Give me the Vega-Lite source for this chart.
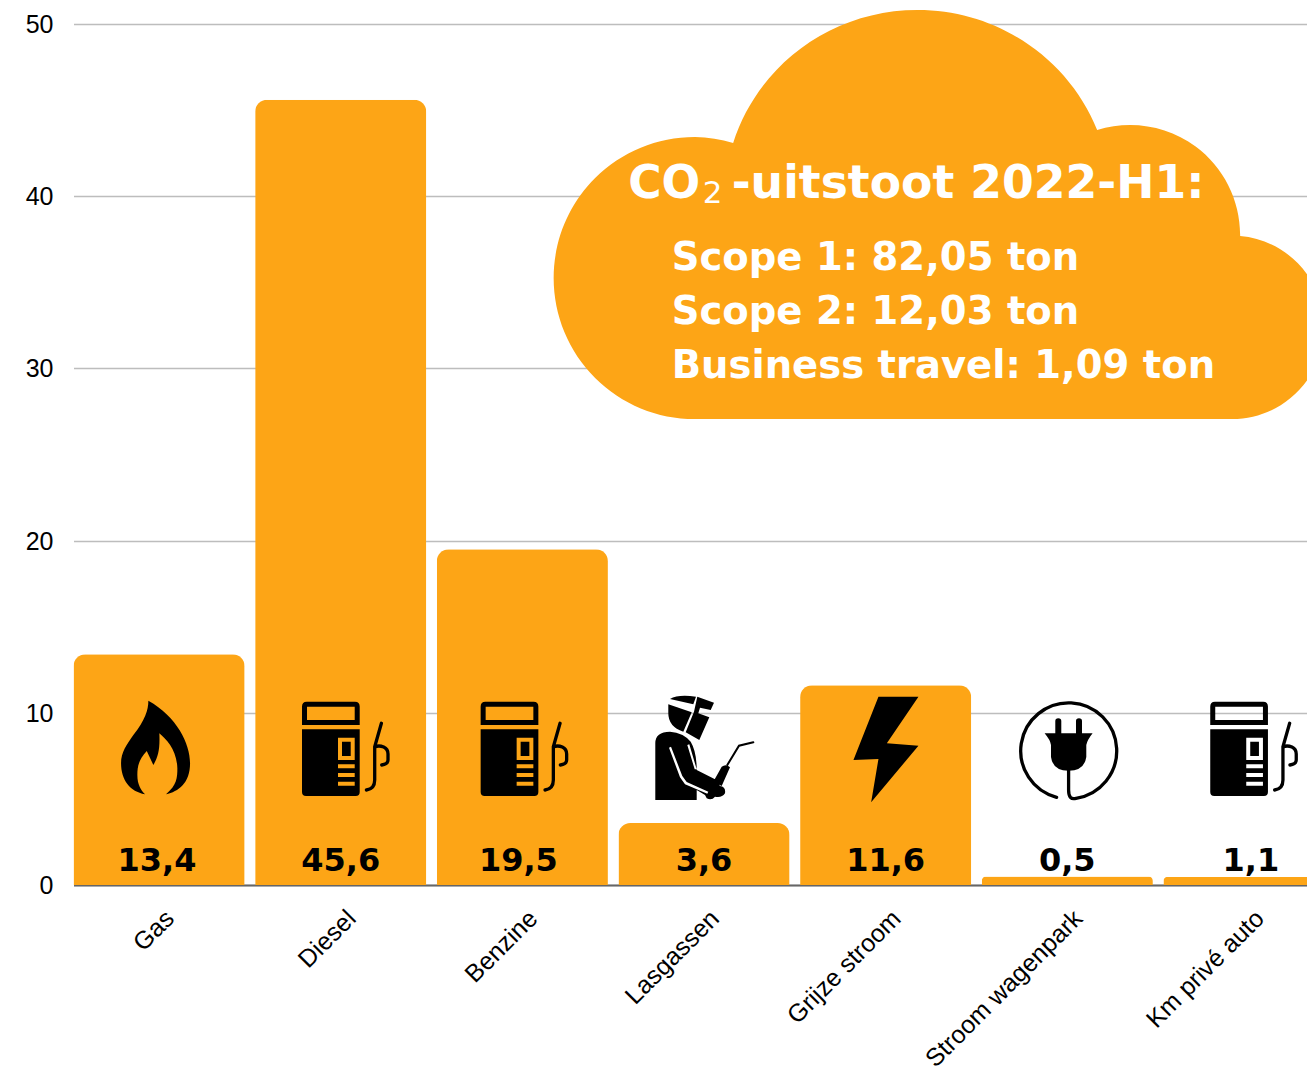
{
"$schema":"https://vega.github.io/schema/vega-lite/v6.json",
"width":1235,"height":861,"autosize":"none",
"padding":{"left":72,"top":24,"right":0,"bottom":184},
"background":"white",
"config":{"view":{"stroke":null}},
"datasets":{
"bars":[
{"cat":"Gas","value":13.4,"bar":13.4,"label":"13,4","icon":"flame"},
{"cat":"Diesel","value":45.6,"bar":45.6,"label":"45,6","icon":"pump","line":"hose"},
{"cat":"Benzine","value":19.5,"bar":19.5,"label":"19,5","icon":"pump","line":"hose"},
{"cat":"Lasgassen","value":3.6,"bar":3.6,"label":"3,6","icon":"welder","line":"torch"},
{"cat":"Grijze stroom","value":11.6,"bar":11.6,"label":"11,6","icon":"bolt"},
{"cat":"Stroom wagenpark","value":0.5,"bar":0.5,"label":"0,5","icon":"plug","line":"cord"},
{"cat":"Km privé auto","value":1.1,"bar":0.47,"label":"1,1","icon":"pump","line":"hose"}
],
"scope":[
{"cat":"Grijze stroom","y":35.74,"text":"Scope 1: 82,05 ton"},
{"cat":"Grijze stroom","y":32.6,"text":"Scope 2: 12,03 ton"},
{"cat":"Grijze stroom","y":29.47,"text":"Business travel: 1,09 ton"}
]
},
"encoding":{"x":{"field":"cat","type":"nominal","sort":null,"title":null,
"scale":{"type":"band","range":[1.5,1262.5],"paddingInner":0.058,"paddingOuter":0},
"axis":{"labelAngle":-45,"labelAlign":"right","labelBaseline":"middle","labelFontSize":25,"labelFont":"Liberation Sans","labelColor":"#000","ticks":false,"labelPadding":29,"labelOffset":11,"domainColor":"#666","domainWidth":2,"grid":false,"labelOverlap":false,"labelBound":false,"labelFlush":false,"labelLimit":0}}},
"layer":[
{"data":{"name":"bars"},
 "mark":{"type":"bar","color":"#FDA516","cornerRadiusTopLeft":12,"cornerRadiusTopRight":12},
 "encoding":{"y":{"field":"bar","type":"quantitative","title":null,
 "scale":{"domain":[0,50],"nice":false},
 "axis":{"values":[0,10,20,30,40,50],"labelFontSize":25,"labelFont":"Liberation Sans","labelColor":"#000","ticks":false,"domain":false,"labelPadding":19,"labelOffset":0.5,"gridColor":"#BDBDBD","gridWidth":1.5,"grid":true}}}},
{"data":{"name":"bars"},
 "mark":{"type":"text","font":"DejaVu Sans","fontWeight":"bold","fontSize":32,"color":"#000","baseline":"alphabetic","dy":-14,"dx":{"expr":"datum.cat==='Gas'?-2:datum.cat==='Benzine'?-4:datum.cat==='Km privé auto'?2:0"}},
 "encoding":{"y":{"datum":0,"type":"quantitative"},"text":{"field":"label"}}},
{"data":{"name":"bars"},
 "mark":{"type":"point","filled":true,"size":4,"opacity":1,"color":"#000","strokeWidth":0,"xOffset":{"expr":"datum.cat==='Benzine'?-3:0"}},
 "encoding":{"y":{"datum":0,"type":"quantitative"},
 "shape":{"field":"icon","type":"nominal","legend":null,"scale":{"domain":["flame","pump","welder","bolt","plug"],"range":[
"M-10.7 -184.3C17.7 -168.3 31 -141.7 31 -121.7C31 -101.7 19.3 -93.3 7 -90.7C17.7 -100 18.3 -107 18.3 -116.7C17.7 -135 8 -145 0.3 -151.7C1 -135 -1 -128 -5.7 -120L-12.3 -134C-20.7 -125 -21.7 -118 -21.7 -110C-21.7 -100 -18 -95 -14 -90.7C-29 -93.3 -38 -105 -38 -121.7C-38 -133.3 -32.3 -140 -25.7 -150C-14 -165 -10.7 -175 -10.7 -184.3Z",
"M-34 -183.3L14.3 -183.3Q19 -183.3 19 -178.6L19 -160L-38.7 -160L-38.7 -178.6Q-38.7 -183.3 -34 -183.3ZM-33.7 -178.3L-33.7 -165L14 -165L14 -178.3ZM-38.7 -155.7L19 -155.7L19 -93Q19 -89 15 -89L-34.7 -89Q-38.7 -89 -38.7 -93ZM-2.7 -147.3L-2.7 -125L14 -125L14 -147.3ZM1.3 -143.3L10 -143.3L10 -129L1.3 -129ZM-2.7 -120.7L-2.7 -116.7L14 -116.7L14 -120.7ZM-2.7 -112L-2.7 -108L14 -108L14 -112ZM-2.7 -103.3L-2.7 -99.3L14 -99.3L14 -103.3Z",
"M-34 -186Q-25.7 -191 -8 -188.3L-10.7 -180.7ZM-35.7 -180.7L-12.3 -172.7L-20.7 -153.3Q-35.7 -158.3 -35.7 -171.7ZM-6.7 -188.3L10 -182.3L6.7 -175L-4 -177.3L-5.7 -171.7L5.3 -167.7L-4.7 -145L-18.3 -152.7L-10 -173.3ZM-48.7 -85L-48.7 -141.7Q-48.7 -153.3 -34 -153.3Q-20.7 -152.3 -13.3 -143.3Q-7.3 -133.3 -7.3 -115L11 -105.7L16 -99Q22 -98.3 21 -91.7Q17.7 -86.7 11 -88.3Q7.7 -84.3 2.7 -86.7L1 -90L-7.3 -95L-7.3 -85ZM-35 -137.3L-24 -107.7L-19 -100.7L3.3 -91.3L4.3 -93.3L-17.3 -103L-21.7 -109L-33 -138.3ZM-16.7 -140L-9.3 -115.7L-7.3 -115.7L-14.7 -140.7ZM9.3 -103.3L17.7 -118.3Q22 -121.7 26 -117.7L17.7 -99Z",
"M-7.2 -188.3L32.8 -188.3L1.2 -141.7L32.8 -139.3L-14.5 -82.7L-7.2 -126L-32.2 -125Z",
"M-22.7 -151.7L25.3 -151.7Q20 -145 19 -140L19 -128Q17 -114.3 1.3 -114.3Q-14.4 -114.3 -16.3 -128L-16.3 -140Q-17 -145 -22.7 -151.7ZM-12 -151L-12 -164Q-12 -166.7 -9 -166.7Q-6 -166.7 -6 -164L-6 -151ZM8.7 -151L8.7 -164Q8.7 -166.7 11.7 -166.7Q14.7 -166.7 14.7 -164L14.7 -151Z"
]}}}},
{"data":{"name":"bars"},
 "transform":[{"filter":"datum.line"}],
 "mark":{"type":"point","filled":false,"size":4,"opacity":1,"stroke":"#000","strokeCap":"round","strokeWidth":{"expr":"datum.line==='torch'?2:3.3"},"xOffset":{"expr":"datum.cat==='Benzine'?-3:0"}},
 "encoding":{"y":{"datum":0,"type":"quantitative"},
 "shape":{"field":"line","type":"nominal","legend":null,"scale":{"domain":["hose","torch","cord"],"range":[
"M40.7 -161.7L34 -138.3L34 -105Q34 -96 25.7 -95M34 -138Q38 -140 43 -138Q47.3 -136 47.3 -131L47.3 -125Q47.3 -121 41 -120",
"M23.3 -120L35 -139.3L49.3 -142.7",
"M-10.7 -87.7A48 48 0 1 1 8.7 -86.7Q1.3 -84.5 1.3 -95L1.3 -117"
]}}}},
{"data":{"values":[{"cat":"Grijze stroom","y":0}]},
 "mark":{"type":"point","filled":true,"size":4,"opacity":1,"color":"#FDA516","strokeWidth":0,
 "shape":"M-152.5 -742A193 190 0 0 1 31.5 -875A193 190 0 0 1 211.5 -755A110 110 0 0 1 354.5 -649A92 92 0 0 1 438.5 -558A92 92 0 0 1 346.5 -466L-190.5 -466A141 141 0 0 1 -332 -607A141 141 0 0 1 -190.5 -748A141 141 0 0 1 -152.5 -742Z"},
 "encoding":{"y":{"field":"y","type":"quantitative"}}},
{"data":{"values":[{"cat":"Grijze stroom","y":39.92,"text":"CO"}]},
 "mark":{"type":"text","font":"DejaVu Sans","fontWeight":"bold","fontSize":45.5,"color":"#fff","align":"left","baseline":"alphabetic","dx":-257.5},
 "encoding":{"y":{"field":"y","type":"quantitative"},"text":{"field":"text"}}},
{"data":{"values":[{"cat":"Grijze stroom","y":39.6,"text":"2"}]},
 "mark":{"type":"text","font":"DejaVu Sans","fontSize":31,"color":"#fff","align":"left","baseline":"alphabetic","dx":-183},
 "encoding":{"y":{"field":"y","type":"quantitative"},"text":{"field":"text"}}},
{"data":{"values":[{"cat":"Grijze stroom","y":39.92,"text":"-uitstoot 2022-H1:"}]},
 "mark":{"type":"text","font":"DejaVu Sans","fontWeight":"bold","fontSize":45.7,"color":"#fff","align":"left","baseline":"alphabetic","dx":-154},
 "encoding":{"y":{"field":"y","type":"quantitative"},"text":{"field":"text"}}},
{"data":{"name":"scope"},
 "mark":{"type":"text","font":"DejaVu Sans","fontWeight":"bold","fontSize":38.55,"color":"#fff","align":"left","baseline":"alphabetic","dx":-214},
 "encoding":{"y":{"field":"y","type":"quantitative"},"text":{"field":"text"}}}
],
"resolve":{"scale":{"shape":"independent"}}
}
